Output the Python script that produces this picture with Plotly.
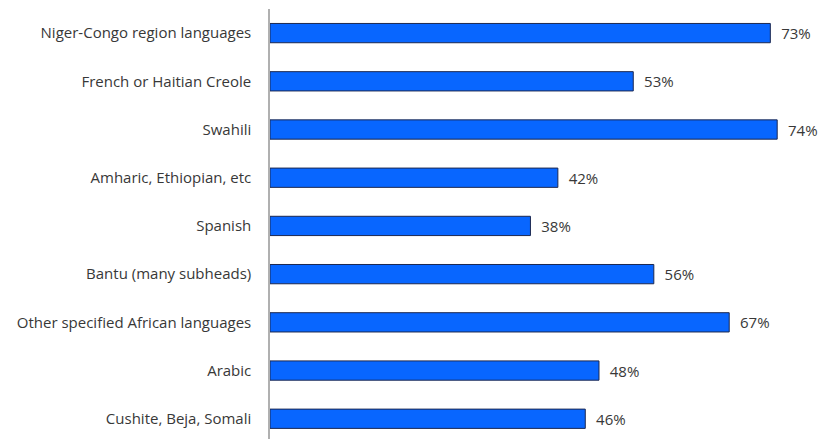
import plotly.graph_objects as go

categories = [
    "Niger-Congo region languages",
    "French or Haitian Creole",
    "Swahili",
    "Amharic, Ethiopian, etc",
    "Spanish",
    "Bantu (many subheads)",
    "Other specified African languages",
    "Arabic",
    "Cushite, Beja, Somali",
]
values = [73, 53, 74, 42, 38, 56, 67, 48, 46]
labels = [f"{v}%" for v in values]

fig = go.Figure(go.Bar(
    y=list(range(len(categories))),
    x=values,
    orientation="h",
    text=["  " + l for l in labels],
    textposition="outside",
    constraintext="none",
    textfont=dict(size=15, color="#383838", family="Open Sans"),
    cliponaxis=False,
    marker=dict(color="#0866ff", line=dict(color="#1c2850", width=1)),
    width=0.4,
))

fig.update_layout(
    width=820, height=439,
    margin=dict(l=270, r=1, t=9, b=0),
    plot_bgcolor="white", paper_bgcolor="white",
    showlegend=False,
    font=dict(family="Open Sans", size=15, color="#383838"),
)
fig.update_xaxes(range=[0, 80.1], visible=False)
fig.update_yaxes(
    range=[8.42, -0.5],
    tickmode="array",
    tickvals=list(range(len(categories))),
    ticktext=categories,
    showline=True, linecolor="#b0b0b0", linewidth=1.5,
    ticks="outside", ticklen=14, tickcolor="rgba(0,0,0,0)",
    tickfont=dict(size=15, color="#383838", family="Open Sans"),
    showgrid=False, zeroline=False,
)

fig.write_html("out.html", config={"displayModeBar": False},
               post_script="document.body.style.margin='0px';")
